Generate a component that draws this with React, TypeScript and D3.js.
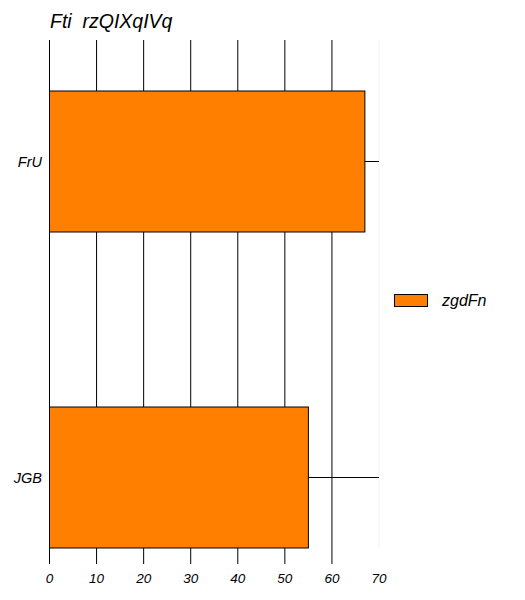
import React from 'react';
import * as d3 from 'd3';

const categories = ['FrU', 'JGB'];
const seriesName = 'zgdFn';
const seriesValues = [67, 55];
const xTicks = [0, 10, 20, 30, 40, 50, 60, 70];
const title = 'Fti  rzQIXqIVq';

const App = () => {
  const width = 525;
  const height = 600;
  const plotLeft = 49.5;
  const plotRight = 379;
  const plotTop = 40;
  const plotBottom = 548;
  const tickEnd = 564;
  const barHeight = 141;
  const orange = '#ff7f00';
  const font = '"Liberation Sans", Arial, sans-serif';

  const x = d3.scaleLinear().domain([0, 70]).range([plotLeft, plotRight]);
  const y = d3.scalePoint<string>().domain(categories).range([161.5, 477.5]);

  return (
    <svg width={width} height={height} style={{ position: 'absolute', left: 0, top: 0 }} fontFamily={font}>
      <rect width={width} height={height} fill="#fff" />
      <text x={50} y={28} fontSize={19.5} fontStyle="italic" fill="#000" style={{ whiteSpace: 'pre' }}>{title}</text>

      {/* vertical grid / ticks */}
      {xTicks.filter(t => t < 70).map(t => (
        <line key={t} x1={x(t)} x2={x(t)} y1={plotTop} y2={tickEnd} stroke="#000" strokeWidth={1} />
      ))}
      <line x1={x(70)} x2={x(70)} y1={plotTop} y2={plotBottom} stroke="#f4f4f4" strokeWidth={1} />

      {/* category lines */}
      {categories.map(c => (
        <line key={c} x1={plotLeft} x2={plotRight} y1={y(c)} y2={y(c)} stroke="#000" strokeWidth={1} />
      ))}

      {/* bars */}
      {categories.map((c, i) => (
        <rect key={c} x={x(0)} y={(y(c) as number) - barHeight / 2} width={x(seriesValues[i]) - x(0)}
          height={barHeight} fill={orange} stroke="#000" strokeWidth={1} />
      ))}

      {/* tick labels */}
      {xTicks.map(t => (
        <text key={t} x={x(t)} y={583} textAnchor="middle" fontSize={13.5} fontStyle="italic" fill="#000">{t}</text>
      ))}
      {categories.map(c => (
        <text key={c} x={42} y={(y(c) as number) + 5} textAnchor="end" fontSize={14.5} fontStyle="italic" fill="#000">{c}</text>
      ))}

      {/* legend */}
      <rect x={394.5} y={294.5} width={33} height={12} fill={orange} stroke="#000" strokeWidth={1} />
      <text x={442} y={305.5} fontSize={16} fontStyle="italic" fill="#000">{seriesName}</text>
    </svg>
  );
};

export default App;
